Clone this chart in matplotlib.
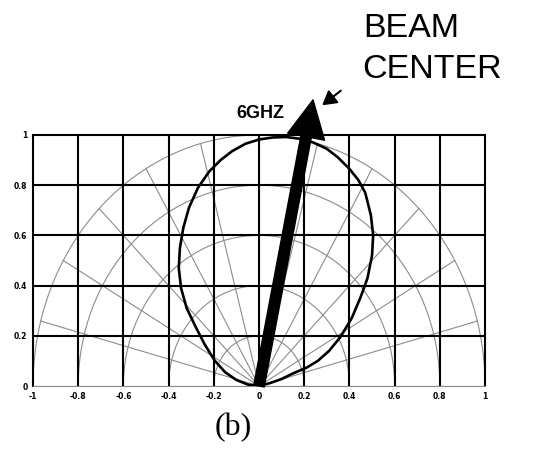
import numpy as np
import matplotlib
matplotlib.use("Agg")
import matplotlib.pyplot as plt

# measured beam pattern at 6 GHz, normalised, as (x, y) points around the lobe
lobe_x = [0.0, 0.05, 0.10, 0.15, 0.21, 0.26, 0.31, 0.36, 0.41, 0.45, 0.48, 0.50,
          0.505, 0.495, 0.47, 0.44, 0.40, 0.35, 0.30, 0.24, 0.18, 0.12, 0.06,
          0.0, -0.06, -0.12, -0.17, -0.22, -0.27, -0.31, -0.335, -0.35, -0.355,
          -0.345, -0.32, -0.28, -0.24, -0.195, -0.15, -0.10, -0.05, 0.0]
lobe_y = [0.0, 0.012, 0.028, 0.05, 0.073, 0.10, 0.14, 0.195, 0.27, 0.355, 0.43, 0.52,
          0.60, 0.68, 0.77, 0.82, 0.865, 0.91, 0.945, 0.97, 0.985, 0.992, 0.99,
          0.982, 0.965, 0.935, 0.90, 0.855, 0.79, 0.71, 0.63, 0.55, 0.47,
          0.39, 0.31, 0.235, 0.165, 0.10, 0.055, 0.024, 0.006, 0.0]

# beam centre direction (tip of the big arrow)
beam_tip = (0.239, 1.14)

ring_radii = [0.2, 0.4, 0.6, 0.8, 1.0]
spoke_angles = list(range(0, 181, 15))

xticks = [-1, -0.8, -0.6, -0.4, -0.2, 0, 0.2, 0.4, 0.6, 0.8, 1]
xtick_labels = ["-1", "-0.8", "-0.6", "-0.4", "-0.2", "0", "0.2", "0.4", "0.6", "0.8", "1"]
yticks = [0, 0.2, 0.4, 0.6, 0.8, 1]
ytick_labels = ["0", "0.2", "0.4", "0.6", "0.8", "1"]

fig = plt.figure(figsize=(5.42, 4.51), dpi=100)
ax = fig.add_axes([0.0609, 0.1441, 0.834, 0.5566])
ax.set_xlim(-1, 1)
ax.set_ylim(0, 1)

# polar grid in gray
t = np.linspace(0, np.pi, 200)
for r in ring_radii:
    ax.plot(r * np.cos(t), r * np.sin(t), color="0.55", lw=0.8, zorder=2)
for a in spoke_angles:
    th = np.deg2rad(a)
    ax.plot([0, np.cos(th)], [0, np.sin(th)], color="0.55", lw=0.8, zorder=2)

# rectangular grid in black
for xv in xticks[1:-1]:
    ax.axvline(xv, color="k", lw=1.5, zorder=3)
for yv in yticks[1:-1]:
    ax.axhline(yv, color="k", lw=1.5, zorder=3)

ax.plot(lobe_x, lobe_y, color="k", lw=1.9, zorder=4, solid_joinstyle="round")

ax.annotate("", xy=beam_tip, xytext=(0, 0), annotation_clip=False,
            arrowprops=dict(arrowstyle="simple,head_length=1.35,head_width=1.35,tail_width=0.38",
                            mutation_scale=20, color="k", shrinkA=0, shrinkB=0),
            zorder=5)

for side in ["top", "left", "right"]:
    ax.spines[side].set_linewidth(1.5)
ax.spines["bottom"].set_color("0.55")
ax.spines["bottom"].set_linewidth(0.8)

ax.set_xticks(xticks)
ax.set_xticklabels(xtick_labels, fontsize=5.5, fontweight="bold")
ax.set_yticks(yticks)
ax.set_yticklabels(ytick_labels, fontsize=5.5, fontweight="bold")
ax.tick_params(length=0, pad=4)

fig.text(0.4797, 0.7494, "6GHZ", ha="center", va="center", fontsize=13,
         fontweight="bold", family="Liberation Sans")
fig.text(0.6697, 0.918, "BEAM", ha="left", va="baseline", fontsize=24.5,
         family="Liberation Sans")
fig.text(0.668, 0.827, "CENTER", ha="left", va="baseline", fontsize=24.5,
         family="Liberation Sans")
fig.add_artist(matplotlib.patches.FancyArrowPatch(
    (0.6328, 0.8027), (0.5904, 0.7627), transform=fig.transFigure,
    arrowstyle="-|>,head_length=0.6,head_width=0.35", mutation_scale=14,
    color="k", lw=1.5))
fig.text(0.43, 0.052, "(b)", ha="center", va="center", fontsize=23,
         family="Liberation Serif")

fig.savefig("out.png", dpi=100)
plt.close(fig)
